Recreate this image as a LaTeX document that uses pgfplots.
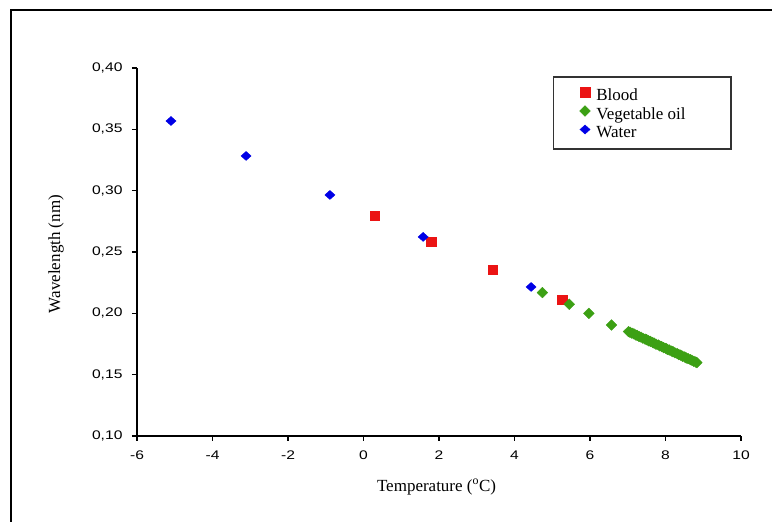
\documentclass[border=0pt]{standalone}
\usepackage{pgfplots}
\pgfplotsset{compat=1.18}
\usepackage{fontspec}
\setmainfont{Liberation Serif}
\newfontfamily\tickfont[FakeStretch=1.25]{Liberation Sans}
\definecolor{cblood}{RGB}{235,20,20}
\definecolor{coil}{RGB}{60,160,20}
\definecolor{cwater}{RGB}{0,0,230}
\begin{document}
\begin{tikzpicture}[x=1pt,y=1pt]
\useasboundingbox (0,0) rectangle (772,522);
\fill[white] (0,0) rectangle (772,522);
\draw[line width=2pt] (10.5,0) -- (10.5,511.5) -- (772,511.5);
\begin{axis}[
  at={(137pt,86pt)}, anchor=south west,
  scale only axis, width=604pt, height=368pt,
  xmin=-6, xmax=10, ymin=0.10, ymax=0.40,
  axis x line*=bottom, axis y line*=left,
  axis line style={line width=1.2pt, -},
  xtick={-6,-4,...,10},
  ytick={0.10,0.15,0.20,0.25,0.30,0.35,0.40},
  tick align=outside, major tick length=5pt,
  tick style={line width=1.2pt, black},
  ticklabel style={font=\tickfont\fontsize{12.5}{14}\selectfont},
  /pgf/number format/assume math mode=true,
  y tick label style={xshift=-6pt, /pgf/number format/.cd, fixed, fixed zerofill, precision=2, use comma, /tikz/.cd},
  x tick label style={yshift=-6pt, /pgf/number format/.cd, fixed, precision=0, /tikz/.cd},
  xlabel={Temperature (\textsuperscript{o}C)},
  ylabel={Wavelength (nm)},
  every axis x label/.style={at={(axis description cs:0.4959,-0.1386)}, anchor=center, font=\fontsize{17}{19}\selectfont},
  every axis y label/.style={at={(axis description cs:-0.1341,0.4946)}, anchor=center, rotate=90, font=\fontsize{17}{19}\selectfont},
  legend style={at={(0.7276,0.9538)}, anchor=north west, draw=none, fill=none,
    font=\fontsize{17}{19}\selectfont, row sep=0.5pt, column sep=5pt,
    nodes={text height=12pt, text depth=4pt, inner sep=1pt}},
  legend cell align=left,
  legend image post style={yshift=4pt},
  clip=false,
]
\addplot[only marks, mark=square*, color=cblood, mark size=4.7pt] coordinates {
(0.30,0.2794) (1.79,0.2582) (3.43,0.2354) (5.26,0.2109)
};
\addlegendentry{Blood}
\addplot[only marks, mark=diamond*, color=coil, mark size=5.3pt, mark options={xscale=1.35}] coordinates {
(4.74,0.2169) (5.45,0.2074) (5.97,0.2000) (6.57,0.1905)
(7.02,0.1851) (7.06,0.1846) (7.11,0.1838) (7.16,0.1833) (7.21,0.1824) (7.25,0.1820)
(7.30,0.1811) (7.35,0.1806) (7.40,0.1797) (7.46,0.1790) (7.50,0.1785) (7.55,0.1776)
(7.60,0.1771) (7.66,0.1762) (7.70,0.1757) (7.75,0.1748) (7.81,0.1742) (7.85,0.1734)
(7.90,0.1729) (7.95,0.1720) (8.01,0.1714) (8.05,0.1706) (8.10,0.1701) (8.16,0.1692)
(8.20,0.1687) (8.25,0.1678) (8.31,0.1672) (8.35,0.1664) (8.40,0.1659) (8.45,0.1650)
(8.51,0.1644) (8.55,0.1636) (8.60,0.1631) (8.66,0.1622) (8.70,0.1617) (8.75,0.1609)
(8.80,0.1603) (8.83,0.1598)
};
\addlegendentry{Vegetable oil}
\addplot[only marks, mark=diamond*, color=cwater, mark size=4.5pt, mark options={xscale=1.5}] coordinates {
(-5.10,0.3568) (-3.11,0.3283) (-0.89,0.2965) (1.58,0.2623) (4.44,0.2215)
};
\addlegendentry{Water}
\draw[line width=1.2pt, black!80] (rel axis cs:0.689,0.9755) rectangle (rel axis cs:0.9834,0.7799);
\end{axis}
\end{tikzpicture}
\end{document}
